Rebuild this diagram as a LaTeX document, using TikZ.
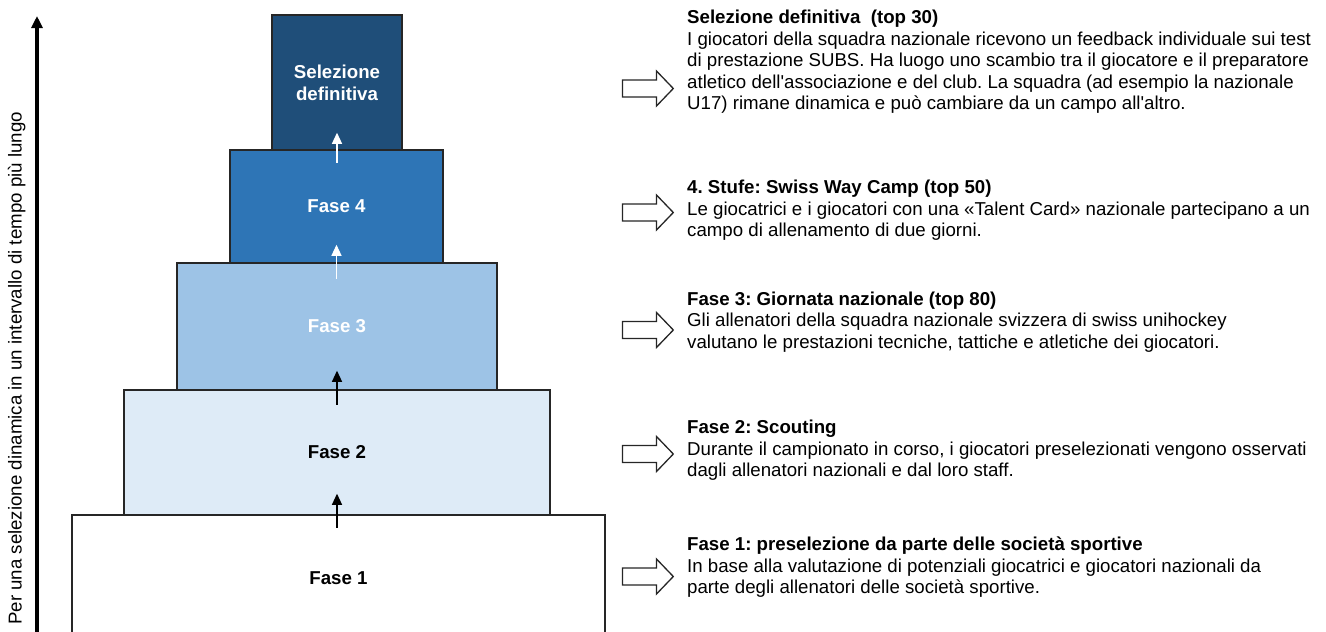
\documentclass[tikz,border=0pt]{standalone}
\usepackage{fontspec}
\setmainfont{Liberation Sans}
\usetikzlibrary{arrows.meta}
\definecolor{selcol}{HTML}{1F4E79}
\definecolor{f4col}{HTML}{2E75B6}
\definecolor{f3col}{HTML}{9DC3E6}
\definecolor{f2col}{HTML}{DEEBF7}
\definecolor{edgecol}{HTML}{262626}
\begin{document}
\frenchspacing
\begin{tikzpicture}[x=1pt,y=-1pt,
  level/.style={draw=edgecol,line width=1.5pt,rectangle,inner sep=0pt,
    align=center,font=\fontsize{18.67pt}{22pt}\selectfont\bfseries},
  upblack/.style={draw=black,line width=1.1pt,-{Triangle[length=11pt,width=10pt]}},
  upwhite/.style={draw=white,line width=1.1pt,-{Triangle[length=11pt,width=10pt]}},
  desc/.style={anchor=north west,inner sep=0pt,align=left,
    font=\fontsize{18.67pt}{21.47pt}\selectfont},
  blockarr/.style={draw=edgecol,line width=1.3pt,fill=white,line join=miter},
  axisline/.style={draw=black,line width=3.2pt,-{Triangle[length=12pt,width=11pt]}}
]
\useasboundingbox (0,0) rectangle (1326,632);
\clip (0,0) rectangle (1326,632);

% axis
\coordinate (axb) at (37,640);
\coordinate (axt) at (37,16);
\draw[axisline] (axb) -- (axt);
\node[rotate=90,anchor=base west,inner sep=0pt,font=\fontsize{18.67pt}{21.47pt}\selectfont]
  (ylab) at (21.5,625) {Per una selezione dinamica in un intervallo di tempo più lungo};

% pyramid levels
\node[level,fill=white,text=black,minimum width=533pt,minimum height=126pt] (f1) at (338.5,578) {Fase 1};
\node[level,fill=f2col,text=black,minimum width=426pt,minimum height=125pt] (f2) at (337,452.5) {Fase 2};
\node[level,fill=f3col,text=white,minimum width=320pt,minimum height=127pt] (f3) at (337,326.5) {Fase 3};
\node[level,fill=f4col,text=white,minimum width=213pt,minimum height=113pt] (f4) at (336.5,206.5) {Fase 4};
\node[level,fill=selcol,text=white,minimum width=130pt,minimum height=135pt] (sel) at (337,82.5) {Selezione\\definitiva};

% small arrows between levels
\draw[upblack] ([yshift=-12pt]f2.south) -- ([yshift=22pt]f2.south);
\draw[upblack] ([yshift=-14pt]f3.south) -- ([yshift=20pt]f3.south);
\draw[upwhite] ([yshift=-15pt]f4.south) -- ([yshift=19pt]f4.south);
\draw[upwhite] ([yshift=-12pt]sel.south) -- ([yshift=18pt]sel.south);

% block arrows
\foreach \c in {88.5,212.5,330,454,576.5}{
  \draw[blockarr] (622.5,\c-8.5) -- (656.5,\c-8.5) -- (656.5,\c-17.5) -- (673.3,\c)
    -- (656.5,\c+17.5) -- (656.5,\c+8.5) -- (622.5,\c+8.5) -- cycle;
}

% descriptions
\node[desc] (t1) at (687,8.47) {\strut\textbf{Selezione definitiva~ (top 30)}\\
I giocatori della squadra nazionale ricevono un feedback individuale sui test\\
di prestazione SUBS. Ha luogo uno scambio tra il giocatore e il preparatore\\
atletico dell\textquotesingle associazione e del club. La squadra (ad esempio la nazionale\\
U17) rimane dinamica e può cambiare da un campo all\textquotesingle altro.};

\node[desc] (t2) at (687,178.47) {\strut\textbf{4. Stufe: Swiss Way Camp (top 50)}\\
Le giocatrici e i giocatori con una «Talent Card» nazionale partecipano a un\\
campo di allenamento di due giorni.};

\node[desc] (t3) at (687,289.97) {\strut\textbf{Fase 3: Giornata nazionale (top 80)}\\
Gli allenatori della squadra nazionale svizzera di swiss unihockey\\
valutano le prestazioni tecniche, tattiche e atletiche dei giocatori.};

\node[desc] (t4) at (687,418.47) {\strut\textbf{Fase 2: Scouting}\\
Durante il campionato in corso, i giocatori preselezionati vengono osservati\\
dagli allenatori nazionali e dal loro staff.};

\node[desc] (t5) at (687,535.47) {\strut\textbf{Fase 1: preselezione da parte delle società sportive}\\
In base alla valutazione di potenziali giocatrici e giocatori nazionali da\\
parte degli allenatori delle società sportive.};
\end{tikzpicture}
\end{document}
